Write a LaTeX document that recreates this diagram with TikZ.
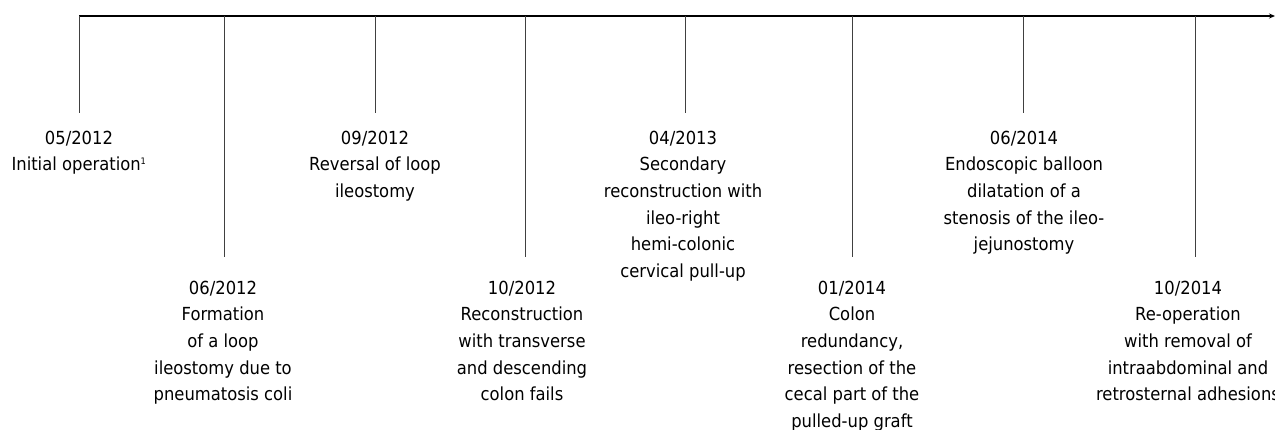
\documentclass[tikz,border=0pt]{standalone}
\usepackage{fontspec}
\setmainfont{DejaVu Sans}[FakeStretch=0.91]
\usetikzlibrary{arrows.meta}
\tikzset{
  axisline/.style={line width=1.1pt, black, -{Stealth[length=6pt,width=5pt]}},
  tickline/.style={line width=0.9pt, black!75},
  evlabel/.style={anchor=north, align=center, inner sep=0pt,
    font=\fontsize{18pt}{26.7pt}\selectfont, text=black},
}
\begin{document}
\begin{tikzpicture}[x=1pt,y=-1pt]
\useasboundingbox (0,0) rectangle (1275,430);
\clip (0,0) rectangle (1275,430);
% axis
\coordinate (start) at (79,16);
\coordinate (tip) at (1275,16);
\draw[axisline] (start) -- (tip);
% tick coordinates
\coordinate (t1) at (79,16);   \coordinate (e1) at (79,113);
\coordinate (t2) at (224.5,16);  \coordinate (e2) at (224.5,257);
\coordinate (t3) at (375,16);  \coordinate (e3) at (375,113);
\coordinate (t4) at (525.5,16);  \coordinate (e4) at (525.5,257);
\coordinate (t5) at (685,16);  \coordinate (e5) at (685,113);
\coordinate (t6) at (852.5,16);  \coordinate (e6) at (852.5,257);
\coordinate (t7) at (1023,16); \coordinate (e7) at (1023,113);
\coordinate (t8) at (1195.5,16); \coordinate (e8) at (1195.5,257);
\foreach \i in {1,...,8} { \draw[tickline] (t\i) -- (e\i); }
% labels
\node[evlabel] (n1) at (79,130.5) {05/2012\\Initial operation\textsuperscript{\fontsize{9pt}{9pt}\selectfont 1}};
\node[evlabel] (n2) at (223,280.5) {06/2012\\Formation\\of a loop\\ileostomy due to\\pneumatosis coli};
\node[evlabel] (n3) at (375,130.5) {09/2012\\Reversal of loop\\ileostomy};
\node[evlabel] (n4) at (522,280.5) {10/2012\\Reconstruction\\with transverse\\and descending\\colon fails};
\node[evlabel] (n5) at (683,130.5) {04/2013\\Secondary\\reconstruction with\\ileo-right\\hemi-colonic\\cervical pull-up};
\node[evlabel] (n6) at (852,280.5) {01/2014\\Colon\\redundancy,\\resection of the\\cecal part of the\\pulled-up graft};
\node[evlabel] (n7) at (1024,130.5) {06/2014\\Endoscopic balloon\\dilatation of a\\stenosis of the ileo-\\jejunostomy};
\node[evlabel] (n8) at (1188,280.5) {10/2014\\Re-operation\\with removal of\\intraabdominal and\\retrosternal adhesions};
\end{tikzpicture}
\end{document}
